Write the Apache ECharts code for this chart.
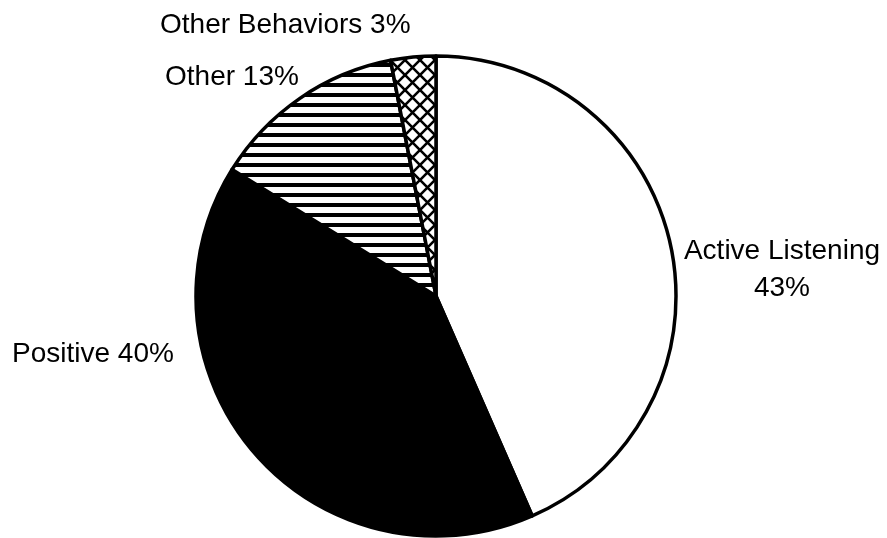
<!DOCTYPE html>
<html>
<head>
<meta charset="utf-8">
<style>
  html, body { margin: 0; padding: 0; background: #fff; }
  #chart { width: 887px; height: 538px; }
</style>
<script src="https://cdn.jsdelivr.net/npm/echarts@6/dist/echarts.min.js"></script>
</head>
<body>
<div id="chart"></div>
<script>
// Share of observed behaviors (percent), clockwise from 12 o'clock
const categories = ['Active Listening', 'Positive', 'Other', 'Other Behaviors'];
const shares = [43, 40, 13, 3];

// Fill patterns for each slice
function stripePattern() {
  const c = document.createElement('canvas');
  c.width = 10; c.height = 10;
  const g = c.getContext('2d');
  g.fillStyle = '#fff'; g.fillRect(0, 0, 10, 10);
  g.fillStyle = '#000'; g.fillRect(0, 3, 10, 4);
  return { image: c, repeat: 'repeat' };
}
function crossPattern() {
  const s = 15;
  const c = document.createElement('canvas');
  c.width = s; c.height = s;
  const g = c.getContext('2d');
  g.fillStyle = '#fff'; g.fillRect(0, 0, s, s);
  g.strokeStyle = '#000'; g.lineWidth = 2.6;
  g.beginPath();
  for (let k = -1; k <= 1; k++) {
    g.moveTo(k * s, 0); g.lineTo(k * s + s, s);
    g.moveTo(k * s + s, 0); g.lineTo(k * s, s);
  }
  g.stroke();
  return { image: c, repeat: 'repeat' };
}
const fills = ['#ffffff', '#000000', stripePattern(), crossPattern()];

// Where each label sits, with its alignment
const labelSpots = [
  { x: 782, y: 270, align: 'center' },
  { x: 12, y: 354, align: 'left' },
  { x: 165, y: 77, align: 'left' },
  { x: 160, y: 25, align: 'left' }
];
const labelJoin = ['\n', ' ', ' ', ' '];

const chart = echarts.init(document.getElementById('chart'), null, { renderer: 'canvas' });
chart.setOption({
  animation: false,
  backgroundColor: '#fff',
  series: [{
    type: 'pie',
    center: [436, 296],
    radius: 240,
    startAngle: 90,
    clockwise: true,
    silent: true,
    data: categories.map((name, i) => ({
      name: name,
      value: shares[i],
      itemStyle: { color: fills[i] }
    })),
    itemStyle: { borderColor: '#000', borderWidth: 3.5 },
    label: {
      show: true,
      position: 'outside',
      alignTo: 'none',
      overflow: 'none',
      bleedMargin: 0,
      formatter: p => p.name + labelJoin[p.dataIndex] + p.value + '%',
      fontFamily: '"Liberation Sans", Arial, sans-serif',
      fontSize: 28,
      lineHeight: 37,
      color: '#000'
    },
    labelLine: { show: false },
    labelLayout: p => {
      const s = labelSpots[p.dataIndex];
      return { x: s.x, y: s.y, align: s.align, verticalAlign: 'middle', hideOverlap: false, moveOverlap: null };
    }
  }]
});
</script>
</body>
</html>
